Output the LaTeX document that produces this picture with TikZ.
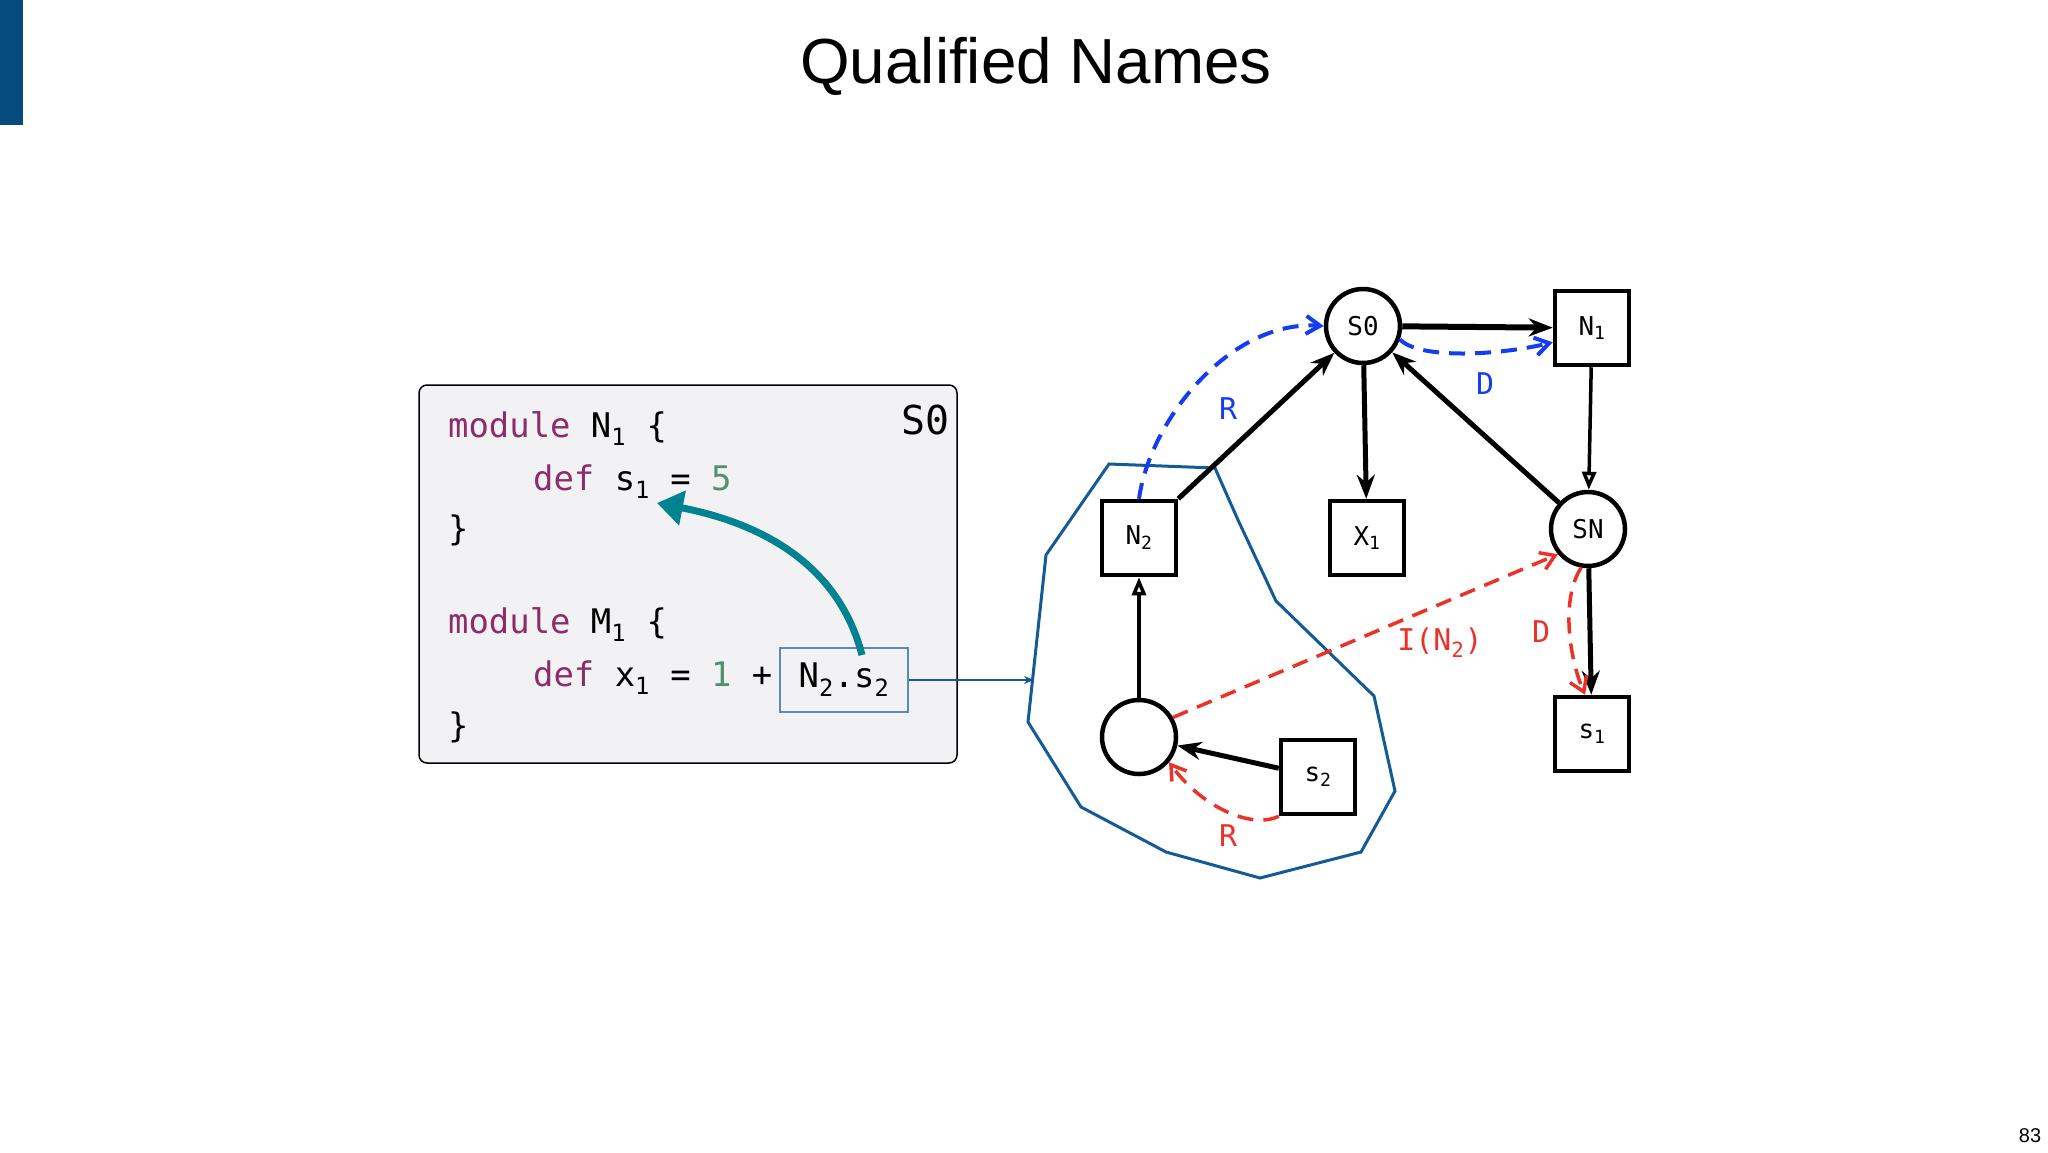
\documentclass[tikz,border=0pt]{standalone}
\usepackage{fontspec}
\setmainfont{Liberation Sans}
\newfontfamily\codefont{DejaVu Sans Mono}
\usetikzlibrary{arrows.meta}
\definecolor{kw}{RGB}{140,45,105}
\definecolor{num}{RGB}{80,145,110}
\definecolor{teal}{RGB}{0,130,145}
\definecolor{poly}{RGB}{20,90,150}
\definecolor{bar}{RGB}{5,75,125}
\definecolor{dblue}{RGB}{20,60,240}
\definecolor{dred}{RGB}{235,50,40}
\begin{document}
\begin{tikzpicture}[x=1bp,y=-1bp,
  sq/.style={draw,line width=4.5bp,minimum size=74bp,inner sep=0pt,font=\codefont\fontsize{26}{30}\selectfont},
  cir/.style={draw,circle,line width=4.5bp,minimum size=74bp,inner sep=0pt,font=\codefont\fontsize{26}{30}\selectfont},
  ed/.style={line width=5bp,-{Stealth[length=24bp,width=18bp]}},
  edo/.style={line width=3.5bp,-{Triangle[open,length=18bp,width=14bp]}},
  bd/.style={dblue,dashed,line width=4bp,dash pattern=on 16bp off 10bp,-{Straight Barb[length=14bp,width=18bp]}},
  rd/.style={dred,dashed,line width=3.5bp,dash pattern=on 16bp off 10bp,-{Straight Barb[length=14bp,width=18bp]}},
  lb/.style={font=\codefont\fontsize{30}{34}\selectfont},
  code/.style={anchor=base west,inner sep=0pt,font=\codefont\fontsize{34}{40}\selectfont}]
\useasboundingbox (0,0) rectangle (2048,1152);
\fill[bar] (0,0) rectangle (23,125);
\node[font=\fontsize{64}{70}\selectfont] (title) at (1036,66) {Qualified Names};
\node[font=\fontsize{20}{24}\selectfont] (pg) at (2030,1136) {83};
% code box
\draw[fill={rgb,255:red,242;green,242;blue,244},line width=1.5bp,rounded corners=8bp] (419,385) rectangle (957,763);
\node[code] (l1) at (448,437) {\textcolor{kw}{module} N\textsubscript{1} \{};
\node[code] (l2) at (533,490) {\textcolor{kw}{def} s\textsubscript{1} = \textcolor{num}{5}};
\node[code] (l3) at (448,540) {\}};
\node[code] (l4) at (448,633) {\textcolor{kw}{module} M\textsubscript{1} \{};
\node[code] (l5) at (533,686) {\textcolor{kw}{def} x\textsubscript{1} = \textcolor{num}{1} +};
\node[code] (l6) at (448,737) {\}};
\node[code,anchor=base east,font=\codefont\fontsize{40}{44}\selectfont] (s0l) at (950,434) {S0};
\node[draw=poly!70,line width=1.2bp,minimum width=128bp,minimum height=64bp,inner sep=0pt,font=\codefont\fontsize{34}{40}\selectfont] (ns) at (844,680) {N\textsubscript{2}.s\textsubscript{2}};
\coordinate (ta) at (862,655);
\coordinate (tb) at (657,503);
\draw[teal,line width=7bp,-{Triangle[length=26bp,width=34bp]}] (ta) .. controls (840,570) and (770,525) .. (tb);
% polygon
\draw[poly,line width=3bp] (1109,464)--(1215,468)--(1238,520)--(1276,601)--(1374,696)--(1395,791)--(1361,852)--(1260,878)--(1166,852)--(1081,807)--(1028,722)--(1046,555)--cycle;
\coordinate (pe) at (1034,680);
\draw[poly,line width=2.5bp,-{Stealth[length=10bp,width=8bp]}] (ns.east) -- (pe);
% nodes
\node[cir] (S0) at (1363,326) {S0};
\node[sq] (N1) at (1592,328) {N\textsubscript{1}};
\node[sq] (N2) at (1139,538) {N\textsubscript{2}};
\node[sq] (X1) at (1367,538) {X\textsubscript{1}};
\node[cir] (SN) at (1588,529) {SN};
\node[sq] (s1) at (1592,734) {s\textsubscript{1}};
\node[cir] (C) at (1139,737) {};
\node[sq] (s2) at (1318,777) {s\textsubscript{2}};
% edges
\draw[ed,line width=6bp] (S0) -- (N1);
\draw[ed] (S0) -- (X1);
\draw[ed] (SN) -- (S0);
\draw[ed] (N2.north east) -- (S0);
\draw[edo] (N1) -- (SN);
\draw[ed] (SN) -- (s1);
\draw[edo] (C) -- (N2);
\draw[ed] (s2) -- (C);
% dashed
\draw[bd] (N2.north) .. controls (1150,420) and (1230,320) .. (S0.west);
\draw[bd] (S0.-20) .. controls (1420,360) and (1500,355) .. (N1.-160);
\draw[rd] (C.30) -- (SN.-140);
\draw[rd] (SN.-100) .. controls (1560,600) and (1570,660) .. (s1.100);
\draw[rd] (s2.south west) .. controls (1250,830) and (1200,805) .. (C.-40);
\node[lb,text=dblue] (r1) at (1228,409) {R};
\node[lb,text=dblue] (d1) at (1485,384) {D};
\node[lb,text=dred] (i1) at (1440,643) {I(N\textsubscript{2})};
\node[lb,text=dred] (d2) at (1541,632) {D};
\node[lb,text=dred] (r2) at (1228,836) {R};
\end{tikzpicture}
\end{document}
